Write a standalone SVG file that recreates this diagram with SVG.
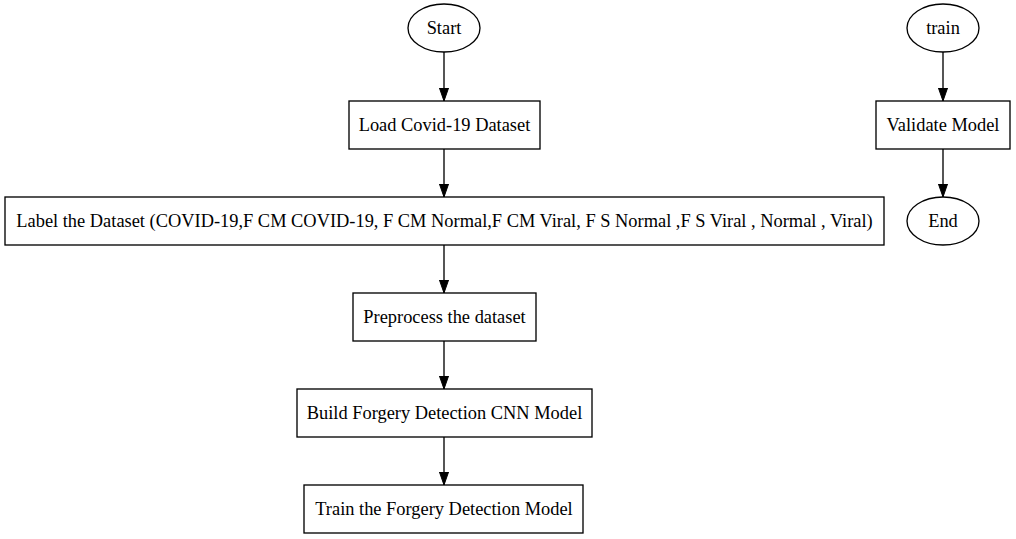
<svg xmlns="http://www.w3.org/2000/svg" width="1016" height="539" viewBox="0 0 1016 539">
<defs>
<style>
.n{fill:none;stroke:#000;stroke-width:1.33}
.t{font-family:"Liberation Serif","Times New Roman",serif;font-size:18.4px;text-anchor:middle;fill:#000}
.e{stroke:#000;stroke-width:1.33;fill:none}
</style>
<marker id="a" markerUnits="userSpaceOnUse" markerWidth="14" markerHeight="10" refX="13.3" refY="4.67" orient="auto" viewBox="0 0 14 10">
<path d="M0,0 L13.3,4.67 L0,9.33 Z" fill="#000" stroke="#000" stroke-width="1"/>
</marker>
</defs>
<rect width="1016" height="539" fill="#fff"/>
<g id="edges">
<line class="e" x1="444" y1="52" x2="444" y2="101" marker-end="url(#a)"/>
<line class="e" x1="444" y1="149" x2="444" y2="197" marker-end="url(#a)"/>
<line class="e" x1="444" y1="245" x2="444" y2="293" marker-end="url(#a)"/>
<line class="e" x1="444" y1="341" x2="444" y2="389" marker-end="url(#a)"/>
<line class="e" x1="444" y1="437" x2="444" y2="485" marker-end="url(#a)"/>
<line class="e" x1="943" y1="52" x2="943" y2="101" marker-end="url(#a)"/>
<line class="e" x1="943" y1="149" x2="943" y2="197" marker-end="url(#a)"/>
</g>
<g id="start"><ellipse class="n" cx="444" cy="28" rx="36" ry="24"/><text class="t" x="444" y="33.5">Start</text></g>
<g id="load"><rect class="n" x="349" y="101" width="191" height="48"/><text class="t" x="444.5" y="130.5">Load Covid-19 Dataset</text></g>
<g id="label"><rect class="n" x="5" y="197" width="879" height="48"/><text class="t" x="444.5" y="226.5">Label the Dataset (COVID-19,F CM COVID-19, F CM Normal,F CM Viral, F S Normal ,F S Viral , Normal , Viral)</text></g>
<g id="preprocess"><rect class="n" x="353" y="293" width="183" height="48"/><text class="t" x="444.5" y="322.5">Preprocess the dataset</text></g>
<g id="build"><rect class="n" x="297" y="389" width="295" height="48"/><text class="t" x="444.5" y="418.5">Build Forgery Detection CNN Model</text></g>
<g id="trainmodel"><rect class="n" x="304" y="485" width="279" height="48"/><text class="t" x="444" y="514.5">Train the Forgery Detection Model</text></g>
<g id="train"><ellipse class="n" cx="943" cy="28" rx="36" ry="24"/><text class="t" x="943" y="33.5">train</text></g>
<g id="validate"><rect class="n" x="876" y="101" width="134" height="48"/><text class="t" x="943" y="130.5">Validate Model</text></g>
<g id="end"><ellipse class="n" cx="943" cy="221" rx="36" ry="24"/><text class="t" x="943" y="226.5">End</text></g>
</svg>
